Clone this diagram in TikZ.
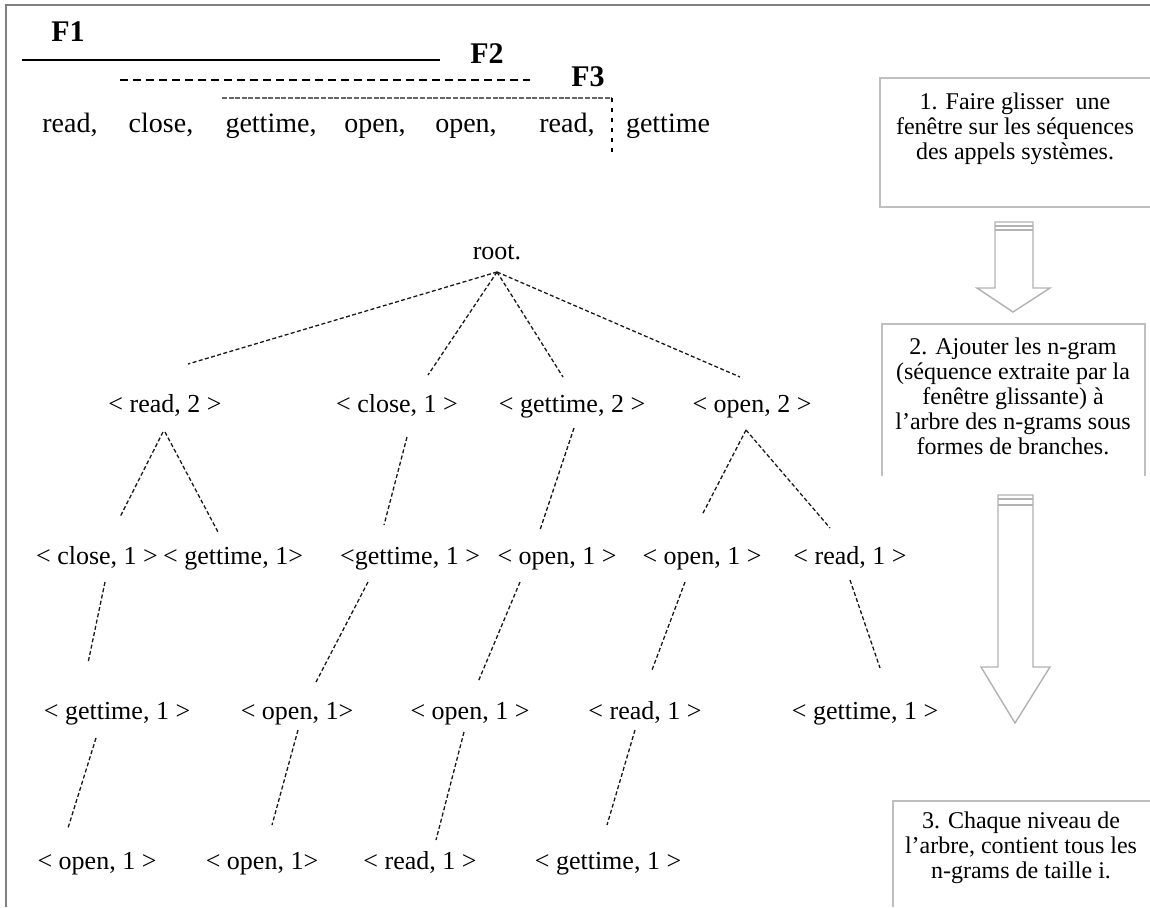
\documentclass[tikz,border=0pt]{standalone}
\usepackage{fontspec}
\setmainfont{Liberation Serif}
\usetikzlibrary{calc}
\begin{document}
\begin{tikzpicture}[x=0.5pt,y=-0.5pt,
  seqw/.style={font=\fontsize{14}{16}\selectfont, inner sep=1pt, text height=1.9ex, text depth=0.25ex},
  flab/.style={font=\fontsize{15}{17}\selectfont\bfseries, inner sep=1pt, text height=1.6ex, text depth=0.2ex},
  gram/.style={font=\fontsize{13}{15}\selectfont, inner sep=1pt, text height=1.9ex, text depth=0.25ex},
  note/.style={font=\fontsize{12}{12.5}\selectfont, align=center, inner sep=0pt},
  edge/.style={draw=black!90, line width=0.65pt, dash pattern=on 2pt off 1.2pt},
  frameline/.style={draw=black!50, line width=1pt},
  boxline/.style={draw=black!25, line width=1pt},
  blockarrow/.style={draw=black!30, line width=0.7pt, fill=white}]
\useasboundingbox (0,0) rectangle (1150,907);
% outer frame (only top and left visible)
\draw[frameline] (6,907) -- (6,5) -- (1150,5);

% windows F1, F2, F3
\node[flab] (f1) at (68,35) {F1};
\node[flab] (f2) at (487,57) {F2};
\node[flab] (f3) at (588,80) {F3};
\draw[line width=0.9pt] (22,60) -- (440,60);
\draw[line width=0.9pt, dash pattern=on 4pt off 2.5pt] (120,80) -- (530,80);
\draw[line width=0.9pt, draw=black!60, dash pattern=on 2.5pt off 0.8pt] (222,98) -- (612,98);
\draw[line width=0.8pt, dash pattern=on 2pt off 3pt] (612,98) -- (612,157);

% system call sequence
\node[seqw] (s1) at (70,125) {read,};
\node[seqw] (s2) at (161,125) {close,};
\node[seqw] (s3) at (271,125) {gettime,};
\node[seqw] (s4) at (375,125) {open,};
\node[seqw] (s5) at (466,125) {open,};
\node[seqw] (s6) at (567,125) {read,};
\node[seqw] (s7) at (668,125) {gettime};

% tree nodes
\node[gram] (root) at (497,252) {root.};
\node[gram] (a1) at (165,405) {< read, 2 >};
\node[gram] (a2) at (397,405) {< close, 1 >};
\node[gram] (a3) at (572,405) {< gettime, 2 >};
\node[gram] (a4) at (752,405) {< open, 2 >};

\node[gram] (b1) at (97,557) {< close, 1 >};
\node[gram] (b2) at (233,557) {< gettime, 1>};
\node[gram] (b3) at (410,557) {<gettime, 1 >};
\node[gram] (b4) at (557,557) {< open, 1 >};
\node[gram] (b5) at (702,557) {< open, 1 >};
\node[gram] (b6) at (850,557) {< read, 1 >};

\node[gram] (c1) at (117,712) {< gettime, 1 >};
\node[gram] (c2) at (297,712) {< open, 1>};
\node[gram] (c3) at (470,712) {< open, 1 >};
\node[gram] (c4) at (645,712) {< read, 1 >};
\node[gram] (c5) at (865,712) {< gettime, 1 >};

\node[gram] (d1) at (97,862) {< open, 1 >};
\node[gram] (d2) at (262,862) {< open, 1>};
\node[gram] (d3) at (420,862) {< read, 1 >};
\node[gram] (d4) at (608,862) {< gettime, 1 >};

% tree edges
\draw[edge] ($(root)+(0,20)$) -- ($(a1)+(23,-41)$);
\draw[edge] ($(root)+(0,20)$) -- ($(a2)+(31,-30)$);
\draw[edge] ($(root)+(0,20)$) -- ($(a3)+(-9,-28)$);
\draw[edge] ($(root)+(0,20)$) -- ($(a4)+(-12,-28)$);

\draw[edge] ($(a1)+(-2,27)$) -- ($(b1)+(23,-40)$);
\draw[edge] ($(a1)+(0,27)$) -- ($(b2)+(-15,-25)$);
\draw[edge] ($(a2)+(10,32)$) -- ($(b3)+(-26,-32)$);
\draw[edge] ($(a3)+(2,23)$) -- ($(b4)+(-17,-27)$);
\draw[edge] ($(a4)+(-6,25)$) -- ($(b5)+(0,-42)$);
\draw[edge] ($(a4)+(-6,25)$) -- ($(b6)+(-20,-29)$);

\draw[edge] ($(b1)+(8,25)$) -- ($(c1)+(-29,-49)$);
\draw[edge] ($(b3)+(-42,25)$) -- ($(c2)+(19,-30)$);
\draw[edge] ($(b4)+(-37,25)$) -- ($(c3)+(8,-30)$);
\draw[edge] ($(b5)+(-17,25)$) -- ($(c4)+(7,-42)$);
\draw[edge] ($(b6)+(0,23)$) -- ($(c5)+(15,-44)$);

\draw[edge] ($(c1)+(-21,26)$) -- ($(d1)+(-29,-34)$);
\draw[edge] ($(c2)+(1,18)$) -- ($(d2)+(10,-37)$);
\draw[edge] ($(c3)+(-6,20)$) -- ($(d3)+(16,-22)$);
\draw[edge] ($(c4)+(-10,18)$) -- ($(d4)+(-1,-37)$);

% step boxes (partly cut by the picture edge)
\draw[boxline] (1150,78) -- (880,78) -- (880,207) -- (1150,207);
\node[note] (n1) at (1015,129) {1. Faire glisser \ une\\fenêtre sur les séquences\\des appels systèmes.};

\draw[boxline] (882,476) -- (882,324) -- (1145,324) -- (1145,476);
\node[note] (n2) at (1013,396) {2. Ajouter les n-gram\\(séquence extraite par la\\fenêtre glissante) à\\l'arbre des n-grams sous\\formes de branches.};

\draw[boxline] (893,907) -- (893,801) -- (1150,801);
\node[note] (n3) at (1021,848) {3. Chaque niveau de\\l'arbre, contient tous les\\n-grams de taille i.};

% block arrows
\draw[blockarrow] (995,222) -- (995,288) -- (977,288) -- (1013,312) -- (1050,288) -- (1033,288) -- (1033,222) -- cycle;
\draw[draw=black!30, line width=0.7pt] (995,226) -- (1033,226) (995,230) -- (1033,230);
\draw[blockarrow] (998,495) -- (998,667) -- (981,667) -- (1015,723) -- (1050,667) -- (1033,667) -- (1033,495) -- cycle;
\draw[draw=black!30, line width=0.7pt] (998,499) -- (1033,499) (998,505) -- (1033,505);
\end{tikzpicture}
\end{document}
